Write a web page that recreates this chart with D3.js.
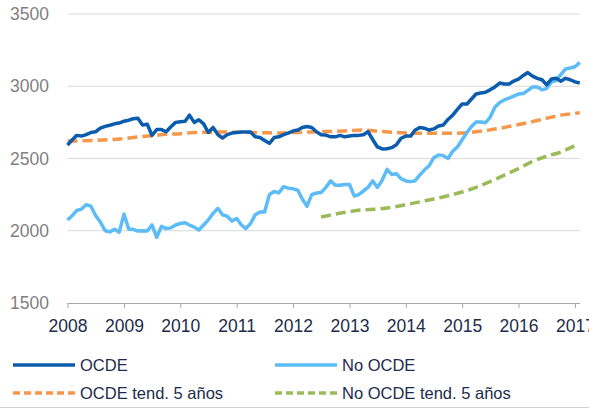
<!DOCTYPE html>
<html>
<head>
<meta charset="utf-8">
<script src="https://cdn.jsdelivr.net/npm/d3@7/dist/d3.min.js"></script>
<style>
  body { margin: 0; background: #fff; }
  svg { display: block; font-family: "Liberation Sans", Arial, sans-serif; }
</style>
</head>
<body>
<svg id="chart" width="589" height="408"></svg>
<script>
// monthly series, first value = Jan 2008
const ocde = [
  2593, 2630, 2660, 2655, 2665, 2680, 2685, 2710, 2722, 2730, 2740, 2745,
  2758, 2765, 2775, 2778, 2732, 2737, 2660, 2700, 2700, 2685, 2720, 2750,
  2755, 2758, 2800, 2750, 2768, 2740, 2680, 2715, 2665, 2642, 2665, 2676,
  2680, 2683, 2683, 2683, 2650, 2645, 2625, 2605, 2645, 2650, 2665, 2676,
  2690, 2697, 2715, 2722, 2715, 2685, 2665, 2662, 2650, 2650, 2660, 2650,
  2655, 2660, 2660, 2665, 2685, 2630, 2580, 2566, 2568, 2575, 2595, 2640,
  2655, 2655, 2695, 2715, 2710, 2697, 2705, 2725, 2732, 2770, 2800, 2840,
  2877, 2877, 2910, 2946, 2953, 2958, 2975, 2995, 3022, 3015, 3015, 3036,
  3050, 3075, 3095, 3070, 3055, 3045, 3010, 3050, 3055, 3035, 3055, 3045,
  3030, 3022
]
const noOcde = [
  2074, 2105, 2140, 2150, 2180, 2170, 2105, 2060, 2000, 1992, 2010, 1990,
  2115, 2010, 2010, 1998, 2000, 1998, 2040, 1955, 2030, 2015, 2020, 2040,
  2050, 2055, 2040, 2025, 2005, 2040, 2075, 2120, 2155, 2110, 2100, 2067,
  2085, 2040, 2015, 2050, 2110, 2130, 2130, 2250, 2272, 2262, 2305, 2295,
  2290, 2280, 2220, 2170, 2250, 2261, 2265, 2300, 2345, 2315, 2315, 2320,
  2320, 2240, 2250, 2275, 2300, 2345, 2300, 2350, 2425, 2390, 2395, 2360,
  2345, 2340, 2345, 2385, 2420, 2450, 2505, 2525, 2520, 2500, 2550, 2580,
  2630, 2680, 2720, 2752, 2752, 2748, 2785, 2855, 2888, 2905, 2918, 2932,
  2946, 2950, 2970, 2995, 2995, 2975, 2985, 3030, 3040, 3080, 3120, 3126,
  3135, 3165
]

// trend lines, read every quarter (month index from Jan 2008)
const ocdeTendMonths = [0, 3, 6, 9, 12, 15, 18, 21, 24, 27, 30, 33, 36, 39, 42, 45, 48, 51, 54,
  57, 60, 63, 66, 69, 72, 75, 78, 81, 84, 87, 90, 93, 96, 99, 102, 105, 108, 109]
const ocdeTend = [2621, 2622, 2625, 2630, 2638, 2649, 2658, 2667, 2672, 2680, 2682, 2683,
  2682, 2680, 2678, 2677, 2680, 2683, 2686, 2688, 2693, 2697, 2690, 2682, 2677, 2675,
  2674, 2674, 2676, 2685, 2698, 2715, 2735, 2755, 2778, 2800, 2812, 2817]
const noOcdeTendMonths = [54, 57, 60, 63, 66, 69, 72, 75, 78, 81, 84, 87, 90, 93, 96, 99, 102, 105, 108]
const noOcdeTend = [2095, 2115, 2132, 2145, 2150, 2162, 2180, 2200, 2220, 2242, 2268,
  2300, 2340, 2385, 2430, 2480, 2515, 2545, 2590]

const yTicks = [1500, 2000, 2500, 3000, 3500]
const xYears = [2008, 2009, 2010, 2011, 2012, 2013, 2014, 2015, 2016, 2017]

const seriesNames = ["OCDE", "No OCDE", "OCDE tend. 5 años", "No OCDE tend. 5 años"]
const colors = ["#0b5cad", "#5bbcf8", "#f7974a", "#9bbb59"]

const plotLeft = 67.5, plotRight = 580, plotTop = 14, plotBottom = 303

function monthDate(m) { return new Date(2008, m, 1) }

var svg = d3.select("#chart")

var x = d3.scaleTime()
  .domain([new Date(2008, 0, 1), new Date(2017, 0, 1)])
  .range([plotLeft, 575])
var y = d3.scaleLinear().domain([1500, 3500]).range([plotBottom, plotTop])

// gridlines
svg.append("g")
  .selectAll("line")
  .data(yTicks.slice(1))
  .enter().append("line")
  .attr("x1", plotLeft).attr("x2", plotRight)
  .attr("y1", d => y(d)).attr("y2", d => y(d))
  .attr("stroke", "#d9d9d9")
  .attr("stroke-width", 1)

// y labels
svg.append("g")
  .selectAll("text")
  .data(yTicks)
  .enter().append("text")
  .attr("x", 49)
  .attr("y", d => y(d))
  .attr("dy", "0.35em")
  .attr("text-anchor", "end")
  .attr("font-size", 17.5)
  .attr("fill", "#7f7f7f")
  .text(d => d)

// x axis
var xAxis = svg.append("g")
  .attr("transform", "translate(0," + plotBottom + ")")
  .call(d3.axisBottom(x)
    .tickValues(xYears.map(yr => new Date(yr, 0, 1)))
    .tickFormat(d3.timeFormat("%Y"))
    .tickSize(5)
    .tickSizeOuter(0))
xAxis.select(".domain").attr("stroke", "#a6a6a6").attr("d", "M" + plotLeft + ",0.5H" + plotRight)
xAxis.selectAll(".tick line").attr("stroke", "#a6a6a6")
xAxis.selectAll(".tick text")
  .attr("font-size", 17.5)
  .attr("font-family", "Liberation Sans, Arial, sans-serif")
  .attr("fill", "#1d2c4c")
  .attr("dy", "1.2em")

var line = d3.line()
  .x(d => x(d.date))
  .y(d => y(d.value))

var seriesData = [
  ocde.map((v, i) => ({ date: monthDate(i), value: v })),
  noOcde.map((v, i) => ({ date: monthDate(i), value: v })),
  ocdeTend.map((v, i) => ({ date: monthDate(ocdeTendMonths[i]), value: v })),
  noOcdeTend.map((v, i) => ({ date: monthDate(noOcdeTendMonths[i]), value: v }))
]
var dashed = [false, false, true, true]

// draw trend lines first, then the actual series
var drawOrder = [2, 3, 1, 0]
drawOrder.forEach(i => {
  svg.append("path")
    .datum(seriesData[i])
    .attr("fill", "none")
    .attr("stroke", colors[i])
    .attr("stroke-width", 3.5)
    .attr("stroke-linejoin", "round")
    .attr("stroke-dasharray", dashed[i] ? "10,5" : null)
    .attr("d", dashed[i] ? line.curve(d3.curveMonotoneX)(seriesData[i]) : line.curve(d3.curveLinear)(seriesData[i]))
})

// legend
var legendPos = [[13, 365], [275, 365], [13, 393], [275, 393]]
var legend = svg.append("g")
  .selectAll("g")
  .data(seriesNames)
  .enter().append("g")
  .attr("transform", (d, i) => "translate(" + legendPos[i][0] + "," + legendPos[i][1] + ")")
legend.append("line")
  .attr("x1", 0).attr("x2", 62)
  .attr("stroke", (d, i) => colors[i])
  .attr("stroke-width", 3.5)
  .attr("stroke-dasharray", (d, i) => dashed[i] ? "7,4" : null)
legend.append("text")
  .attr("x", 67)
  .attr("dy", "0.35em")
  .attr("font-size", 16.5)
  .attr("fill", "#1d2c4c")
  .text(d => d)

svg.append("line")
  .attr("x1", 0).attr("x2", 589)
  .attr("y1", 407.5).attr("y2", 407.5)
  .attr("stroke", "#d0d0d0")
</script>
</body>
</html>
